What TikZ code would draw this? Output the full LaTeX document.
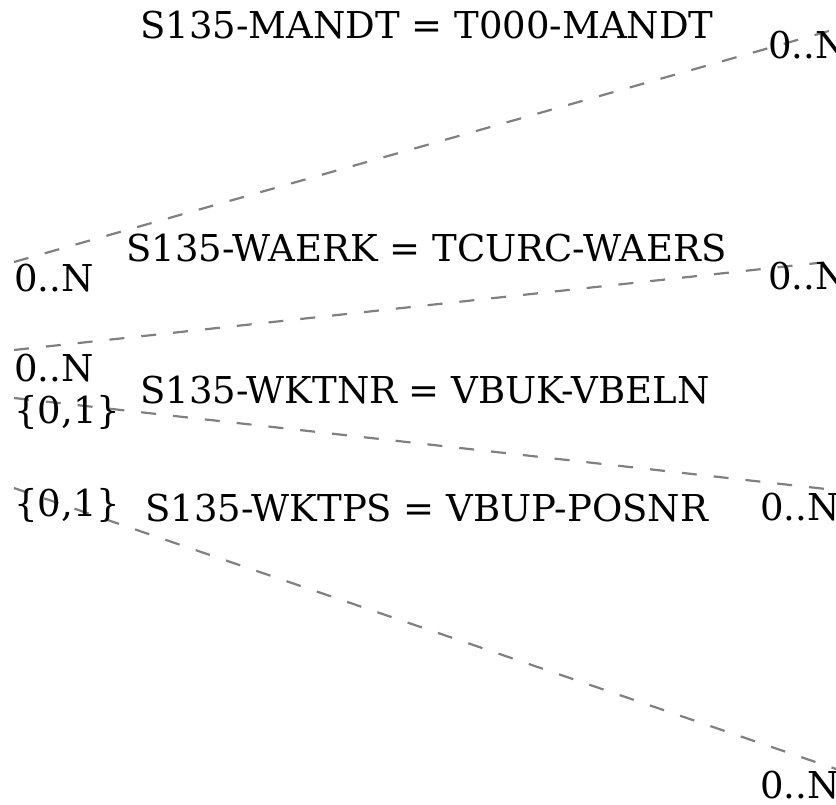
\documentclass[tikz,border=0pt]{standalone}
\usepackage{fontspec}
\setmainfont{DejaVu Serif}
\begin{document}
\begin{tikzpicture}[x=1pt,y=-1pt,
  lbl/.style={inner sep=0pt,anchor=west,font=\fontsize{37}{42}\selectfont},
  rel/.style={draw=gray,line width=2.2pt,dash pattern=on 15pt off 17pt}]
\useasboundingbox (0,0) rectangle (836,804);
\begin{scope}
\clip (0,0) rectangle (836,804);
% endpoints
\coordinate (a1) at (14,262);
\coordinate (b1) at (836,29);
\coordinate (a2) at (14,350);
\coordinate (b2) at (836,261);
\coordinate (a3) at (14,398);
\coordinate (b3) at (826,489);
\coordinate (a4) at (14,488);
\coordinate (b4) at (836,769);
\draw[rel] (a1) -- (b1);
\draw[rel] (a2) -- (b2);
\draw[rel] (a3) -- (b3);
\draw[rel] (a4) -- (b4);
% labels
\node[lbl] (t1) at (140,25) {S135-MANDT = T000-MANDT};
\node[lbl] (r1) at (768,45) {0..N};
\node[lbl] (l1) at (14,278) {0..N};
\node[lbl] (t2) at (126,248) {S135-WAERK = TCURC-WAERS};
\node[lbl] (r2) at (768,276) {0..N};
\node[lbl] (l2) at (14,368) {0..N};
\node[lbl] (l3) at (14,412) {\{0,1\}};
\node[lbl] (t3) at (140,390) {S135-WKTNR = VBUK-VBELN};
\node[lbl] (r3) at (760,507) {0..N};
\node[lbl] (l4) at (14,505) {\{0,1\}};
\node[lbl] (t4) at (145,508) {S135-WKTPS = VBUP-POSNR};
\node[lbl] (r4) at (760,785) {0..N};
\end{scope}
\end{tikzpicture}
\end{document}
